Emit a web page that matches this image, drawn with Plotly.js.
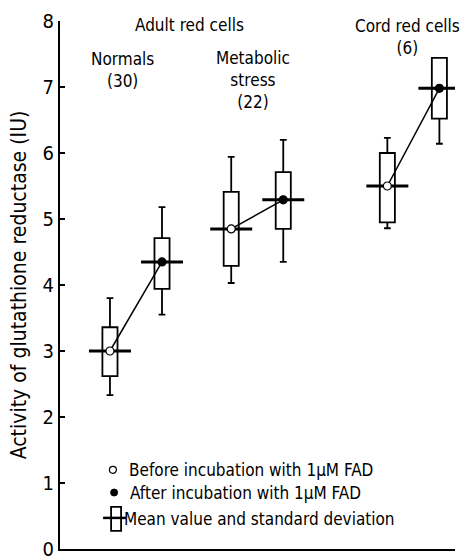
<!DOCTYPE html>
<html>
<head>
<meta charset="utf-8">
<script src="https://cdn.plot.ly/plotly-3.0.1.min.js"></script>
<style>html,body{margin:0;padding:0;background:#fff;}#chart{width:464px;height:556px;}</style>
</head>
<body>
<div id="chart"></div>
<script>
// ---- data ----
const groupNames = ["Normals", "Metabolic stress", "Cord red cells"];
const conditions = ["Before", "After"];
const xPos      = [0, 1, 2.33, 3.33, 5.33, 6.33];
const means     = [3.0, 4.35, 4.85, 5.29, 5.5, 6.98];
const sdLow     = [2.62, 3.94, 4.29, 4.85, 4.95, 6.52];
const sdHigh    = [3.36, 4.71, 5.41, 5.71, 6.0, 7.44];
const whiskLow  = [2.33, 3.55, 4.03, 4.35, 4.86, 6.14];
const whiskHigh = [3.80, 5.18, 5.94, 6.20, 6.23, 7.44];
const yTicks    = [0, 1, 2, 3, 4, 5, 6, 7, 8];

const FONT = "Liberation Sans Narrow, DejaVu Sans Condensed, Arial Narrow, sans-serif";

const traces = [];
traces.push({
  type: "box",
  x: xPos, q1: sdLow, median: means, q3: sdHigh,
  lowerfence: whiskLow, upperfence: whiskHigh,
  boxpoints: false, width: 0.29, whiskerwidth: 0.45,
  line: {color: "black", width: 1.8},
  fillcolor: "rgba(0,0,0,0)",
  showlegend: false, hoverinfo: "skip"
});
traces.push({
  type: "scatter", mode: "markers", x: xPos, y: means,
  marker: {symbol: "line-ew", size: 30, line: {width: 3, color: "black"}},
  showlegend: false, hoverinfo: "skip"
});
for (let g = 0; g < groupNames.length; g++) {
  const i = 2 * g;
  traces.push({
    type: "scatter", mode: "lines+markers",
    name: groupNames[g],
    x: [xPos[i], xPos[i + 1]], y: [means[i], means[i + 1]],
    line: {color: "black", width: 1.5},
    marker: {size: 8, color: ["white", "black"], line: {color: "black", width: 1.2}},
    showlegend: false
  });
}

const ann = (text, x, y, xanchor, size) => ({
  text, x, y, xref: "paper", yref: "paper", xanchor: xanchor || "center", yanchor: "middle",
  showarrow: false, font: {family: FONT, size: size || 17, color: "black"}
});

const layout = {
  width: 464, height: 556,
  margin: {l: 60, r: 9, t: 21, b: 7},
  paper_bgcolor: "white", plot_bgcolor: "white",
  font: {family: FONT, color: "black"},
  xaxis: {range: [-0.96, 6.63], showline: true, linewidth: 2, linecolor: "black",
          showgrid: false, zeroline: false, showticklabels: false, ticks: ""},
  yaxis: {range: [0, 8], tickvals: yTicks, ticktext: yTicks.map(String),
          ticks: "inside", ticklen: 5, tickwidth: 1.5, tickcolor: "black",
          showline: true, linewidth: 2, linecolor: "black",
          showgrid: false, zeroline: false, ticklabeloverflow: "allow",
          tickfont: {family: FONT, size: 20, color: "black"},
          title: {text: "Activity of glutathione reductase (IU)", standoff: 10,
                  font: {family: FONT, size: 21, color: "black"}}},
  annotations: [
    ann("Adult red cells", 0.329, 0.992),
    ann("Normals<br>(30)", 0.159, 0.908),
    ann("Metabolic<br>stress<br>(22)", 0.489, 0.888),
    ann("Cord red cells<br>(6)", 0.881, 0.970),
    ann("Before incubation with 1\u00b5M FAD", 0.170, 0.150, "left"),
    ann("After incubation with 1\u00b5M FAD", 0.172, 0.107, "left"),
    ann("Mean value and standard deviation", 0.157, 0.057, "left")
  ],
  shapes: [
    {type: "circle", xref: "paper", yref: "paper", xsizemode: "pixel", ysizemode: "pixel",
     xanchor: 0.134, yanchor: 0.150, x0: -3.5, x1: 3.5, y0: -3.5, y1: 3.5,
     line: {color: "black", width: 1.2}, fillcolor: "white"},
    {type: "circle", xref: "paper", yref: "paper", xsizemode: "pixel", ysizemode: "pixel",
     xanchor: 0.137, yanchor: 0.107, x0: -3.5, x1: 3.5, y0: -3.5, y1: 3.5,
     line: {color: "black", width: 1}, fillcolor: "black"},
    {type: "rect", xref: "paper", yref: "paper", xsizemode: "pixel", ysizemode: "pixel",
     xanchor: 0.142, yanchor: 0.057, x0: -5, x1: 5, y0: -12, y1: 12,
     line: {color: "black", width: 1.8}, fillcolor: "rgba(0,0,0,0)"},
    {type: "line", xref: "paper", yref: "paper", xsizemode: "pixel", ysizemode: "pixel",
     xanchor: 0.142, yanchor: 0.057, x0: -13, x1: 10, y0: 1, y1: 1,
     line: {color: "black", width: 2.5}}
  ]
};

Plotly.newPlot("chart", traces, layout, {displayModeBar: false, staticPlot: true});
</script>
</body>
</html>
